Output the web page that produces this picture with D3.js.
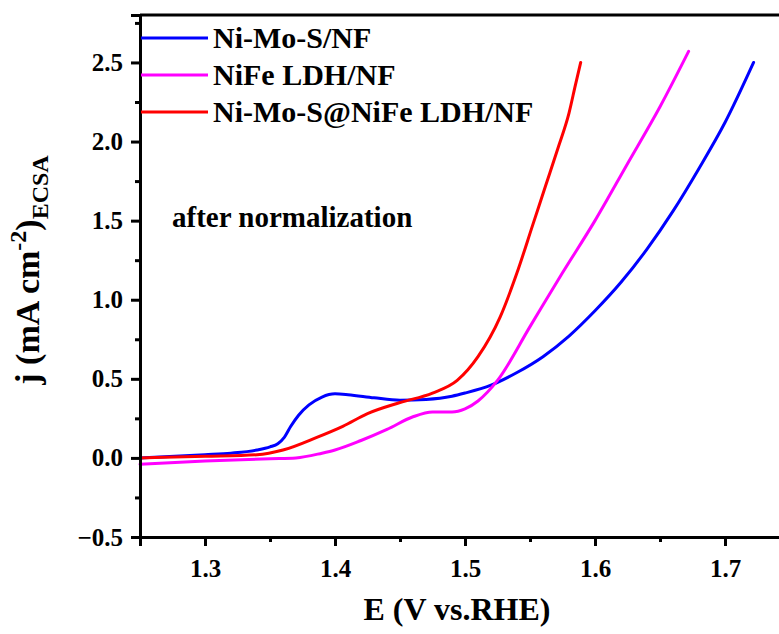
<!DOCTYPE html>
<html>
<head>
<meta charset="utf-8">
<script src="https://cdn.jsdelivr.net/npm/d3@7"></script>
<style>
  body { margin: 0; background: #fff; }
</style>
</head>
<body>
<script>
const width = 779;
const height = 634;
const FONT = '"Liberation Serif"';

// E (V vs. RHE) and j (mA cm-2)
const blueE = [1.25, 1.30, 1.32, 1.34, 1.35, 1.356, 1.361, 1.366, 1.372, 1.38, 1.39, 1.40, 1.41, 1.43, 1.45, 1.47, 1.49, 1.50, 1.52, 1.54, 1.56, 1.58, 1.60, 1.62, 1.64, 1.66, 1.68, 1.70, 1.722];
const blueJ = [0.00, 0.02, 0.03, 0.05, 0.07, 0.09, 0.13, 0.20, 0.27, 0.335, 0.385, 0.405, 0.40, 0.38, 0.365, 0.37, 0.39, 0.41, 0.46, 0.54, 0.64, 0.77, 0.93, 1.11, 1.32, 1.56, 1.83, 2.12, 2.50];

const pinkE = [1.25, 1.30, 1.35, 1.37, 1.39, 1.40, 1.42, 1.44, 1.46, 1.475, 1.49, 1.50, 1.51, 1.525, 1.55, 1.575, 1.60, 1.625, 1.65, 1.672];
const pinkJ = [-0.04, -0.02, -0.005, 0.00, 0.03, 0.05, 0.11, 0.18, 0.26, 0.29, 0.29, 0.31, 0.36, 0.49, 0.83, 1.17, 1.50, 1.86, 2.22, 2.57];

const redE = [1.25, 1.30, 1.34, 1.36, 1.386, 1.406, 1.425, 1.45, 1.475, 1.494, 1.51, 1.527, 1.54, 1.552, 1.562, 1.572, 1.58, 1.585, 1.589];
const redJ = [0.00, 0.01, 0.02, 0.05, 0.13, 0.20, 0.28, 0.35, 0.41, 0.49, 0.64, 0.89, 1.17, 1.47, 1.72, 1.97, 2.18, 2.36, 2.50];

const seriesNames = ["Ni-Mo-S/NF", "NiFe LDH/NF", "Ni-Mo-S@NiFe LDH/NF"];
const seriesColors = ["#0000ff", "#ff00ff", "#ff0000"];
const xTicks = [1.3, 1.4, 1.5, 1.6, 1.7];
const yTicks = [-0.5, 0.0, 0.5, 1.0, 1.5, 2.0, 2.5];

const series = [
  blueE.map((e, i) => [e, blueJ[i]]),
  pinkE.map((e, i) => [e, pinkJ[i]]),
  redE.map((e, i) => [e, redJ[i]])
];

const svg = d3.select("body").append("svg")
  .attr("width", width)
  .attr("height", height);

const x = d3.scaleLinear().domain([1.25, 1.75]).range([140, 790]);
const y = d3.scaleLinear().domain([-0.5, 2.8]).range([537, 15]);

const line = d3.line()
  .x(d => x(d[0]))
  .y(d => y(d[1]))
  .curve(d3.curveMonotoneX);

// curves
svg.append("g")
  .selectAll("path")
  .data(series)
  .enter()
  .append("path")
  .attr("d", line)
  .style("fill", "none")
  .style("stroke", (d, i) => seriesColors[i])
  .style("stroke-width", 3)
  .style("stroke-linejoin", "round")
  .style("stroke-linecap", "round");

// axes
const xMinor = d3.range(1.25, 1.76, 0.05).filter(v => !xTicks.some(t => Math.abs(t - v) < 1e-6));
const yMinor = d3.range(-0.25, 2.8, 0.5);

svg.append("g")
  .attr("transform", `translate(0,${y(-0.5)})`)
  .call(d3.axisBottom(x).tickValues(xTicks).tickSize(9).tickPadding(13).tickFormat(d3.format(".1f")));
svg.append("g")
  .attr("transform", `translate(0,${y(-0.5)})`)
  .call(d3.axisBottom(x).tickValues(xMinor).tickSize(5).tickFormat(""));

svg.append("g")
  .attr("transform", `translate(${x(1.25)},0)`)
  .call(d3.axisLeft(y).tickValues(yTicks).tickSize(9).tickPadding(8).tickFormat(d3.format(".1f")));
svg.append("g")
  .attr("transform", `translate(${x(1.25)},0)`)
  .call(d3.axisLeft(y).tickValues(yMinor).tickSize(5).tickFormat(""));

svg.selectAll(".domain").style("stroke", "#000").style("stroke-width", 3);
svg.selectAll(".tick line").style("stroke", "#000").style("stroke-width", 3);
svg.selectAll(".tick text")
  .style("font-family", FONT)
  .style("font-weight", "bold")
  .style("font-size", "25px")
  .style("fill", "#000");

// top frame line
svg.append("line")
  .attr("x1", x(1.25)).attr("x2", x(1.75))
  .attr("y1", y(2.8)).attr("y2", y(2.8))
  .style("stroke", "#000")
  .style("stroke-width", 3);

// legend
const legend = svg.append("g")
  .selectAll("g")
  .data(seriesNames)
  .enter()
  .append("g")
  .attr("transform", (d, i) => `translate(141,${38 + i * 37})`);

legend.append("line")
  .attr("x1", 0).attr("x2", 67)
  .style("stroke", (d, i) => seriesColors[i])
  .style("stroke-width", 3);

legend.append("text")
  .attr("x", 72)
  .attr("y", 10)
  .style("font-family", FONT)
  .style("font-weight", "bold")
  .style("font-size", "30px")
  .text(d => d);

svg.append("text")
  .attr("x", 172)
  .attr("y", 227)
  .style("font-family", FONT)
  .style("font-weight", "bold")
  .style("font-size", "29px")
  .text("after normalization");

// axis titles
svg.append("text")
  .attr("x", 457)
  .attr("y", 620)
  .attr("text-anchor", "middle")
  .style("font-family", FONT)
  .style("font-weight", "bold")
  .style("font-size", "32px")
  .text("E (V vs.RHE)");

const yLabel = svg.append("text")
  .attr("transform", "translate(39,270) rotate(-90)")
  .attr("text-anchor", "middle")
  .style("font-family", FONT)
  .style("font-weight", "bold")
  .style("font-size", "34px");
yLabel.append("tspan").text("j (mA cm");
yLabel.append("tspan").attr("dy", -13).style("font-size", "24px").text("-2");
yLabel.append("tspan").attr("dy", 13).text(")");
yLabel.append("tspan").attr("dy", 9).style("font-size", "24px").text("ECSA");
</script>
</body>
</html>
